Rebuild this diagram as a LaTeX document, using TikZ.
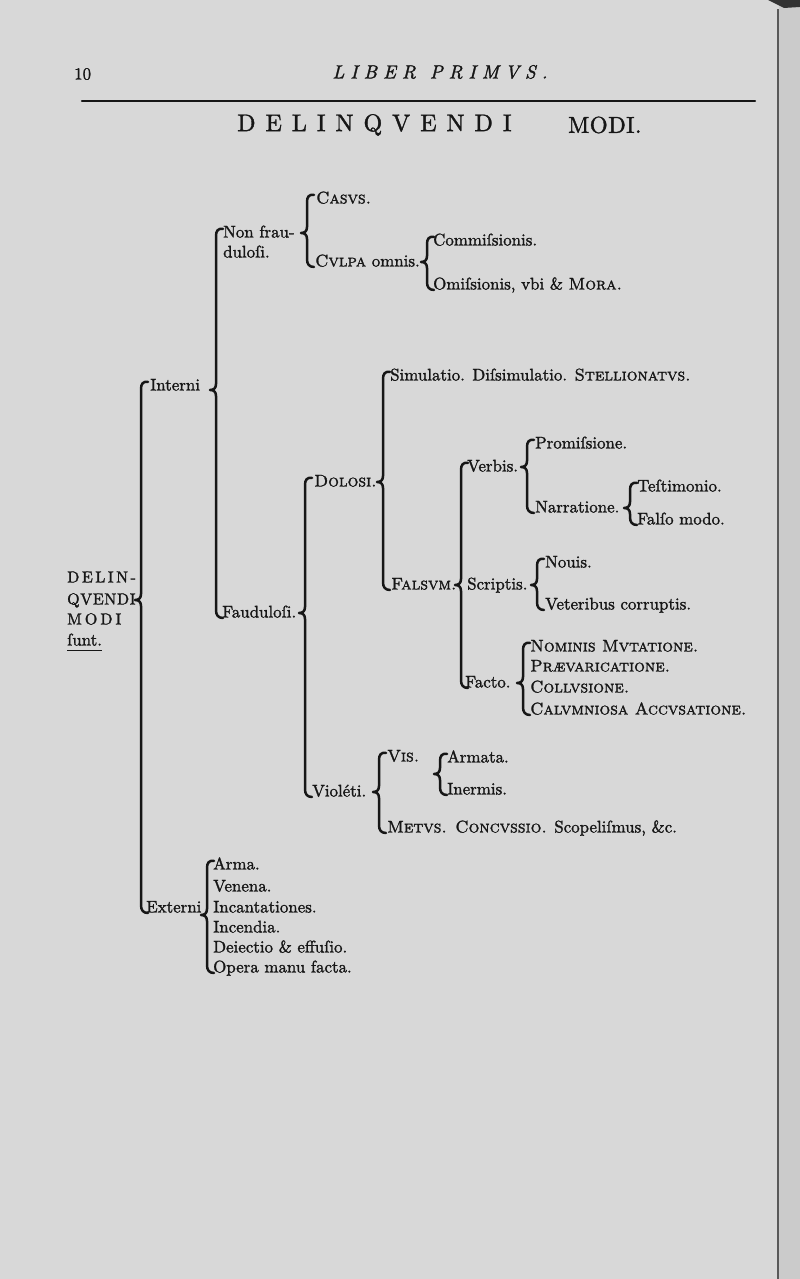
\documentclass[tikz,border=0pt]{standalone}
\usepackage{fontspec}
\setmainfont{lmroman10-regular.otf}[ItalicFont=lmroman10-italic.otf,SmallCapsFont=lmromancaps10-regular.otf,FakeBold=1.5]
\usetikzlibrary{calc}
\definecolor{paper}{HTML}{D8D8D8}
\definecolor{paperedge}{HTML}{CBCBCB}
\definecolor{ink}{HTML}{161616}
\makeatletter
\newdimen\sp@kd
\newcommand\spacedtext[2]{\sp@kd=#1\relax\sp@loop#2\@nil}
\def\sp@loop#1{\ifx#1\@nil\else#1\kern\sp@kd\relax\expandafter\sp@loop\fi}
\makeatother
\newcommand\brc[4]{%
 \draw[bracestyle] let \p1=(#2.east), \p2=(#3.west), \p3=(#4.west) in
 ({#1pt+7pt},{\y2+4pt}) .. controls ({#1pt+2pt},{\y2+5pt}) and ({#1pt},{\y2+2pt}) .. ({#1pt},{\y2-3pt})
 -- ({#1pt},{\y1+6pt}) .. controls ({#1pt},{\y1+2pt}) and ({#1pt-2pt},{\y1}) .. ({#1pt-6pt},{\y1})
 .. controls ({#1pt-2pt},{\y1}) and ({#1pt},{\y1-2pt}) .. ({#1pt},{\y1-6pt})
 -- ({#1pt},{\y3+3pt}) .. controls ({#1pt},{\y3-2pt}) and ({#1pt+2pt},{\y3-5pt}) .. ({#1pt+7pt},{\y3-5pt});
}
\begin{document}
\begin{tikzpicture}[x=1pt,y=1pt,
  lbl/.style={anchor=west,inner sep=0pt,text=ink,font=\fontsize{16.9}{20}\selectfont,text height=12pt,text depth=3pt},
  bracestyle/.style={draw=ink,line width=2.5pt,line cap=round,line join=round}]
\useasboundingbox (0,0) rectangle (800,1279);
% page
\fill[paper] (0,0) rectangle (800,1279);
\fill[paperedge] (779,0) rectangle (800,1279);
\draw[black!65,line width=1.6pt] (778,0) -- (778,1270);
\fill[black!80] (768,1279) -- (800,1279) -- (800,1272) -- (784,1271) -- cycle;
% header
\node[lbl,anchor=west] (pg) at (74,1279-75) {10};
\node[anchor=center,inner sep=0pt,text=ink,font=\fontsize{19}{22}\selectfont\itshape] (hdr) at (443,1279-72)
  {\spacedtext{6pt}{LIBER}\hspace{8pt}\spacedtext{6pt}{PRIMVS.}};
\coordinate (rl) at (82,1279-101);
\coordinate (rr) at (755,1279-101);
\draw[ink,line width=2.2pt,line cap=round] (rl) -- (rr);
\node[anchor=west,inner sep=0pt,text=ink,font=\fontsize{24}{28}\selectfont] (t1) at (237,1279-125) {\spacedtext{10pt}{DELINQVENDI}};
\node[anchor=west,inner sep=0pt,text=ink,font=\fontsize{23}{28}\selectfont] (t2) at (568,1279-125) {\spacedtext{0.5pt}{MODI.}};
% root
\node[lbl,font=\fontsize{16}{18}\selectfont] (dl1) at (67,1279-578) {\spacedtext{2.5pt}{DELIN-}};
\node[lbl,font=\fontsize{16}{18}\selectfont] (dl2) at (67,1279-600) {\spacedtext{0.6pt}{QVENDI}};
\node[lbl,font=\fontsize{16}{18}\selectfont] (dl3) at (67,1279-620) {\spacedtext{3pt}{MODI}};
\node[lbl] (dl4) at (67,1279-641) {ſunt.};
\draw[ink,line width=1.3pt] ([yshift=-2pt]dl4.south west) -- ([yshift=-2pt]dl4.south east);
% level 1
\node[lbl] (int) at (150,1279-386) {Interni};
\coordinate (intc) at ([yshift=-4pt]int.east);
\node[lbl] (ext) at (146,1279-908) {Externi};
\coordinate (extc) at ([yshift=-7pt]ext.east);
% interni
\node[lbl] (nf1) at (223,1279-233) {Non frau-};
\node[lbl] (nf2) at (223,1279-253) {duloſi.};
\node[lbl] (fau) at (222,1279-613) {Fauduloſi.};
\node[lbl] (cas) at (316,1279-199) {\textsc{Casvs.}};
\node[lbl] (cul) at (315,1279-262) {\textsc{Cvlpa} omnis.};
\node[lbl] (com) at (433,1279-241) {Commiſsionis.};
\node[lbl] (omi) at (433,1279-285) {Omiſsionis, vbi \& \textsc{Mora.}};
\node[lbl] (dol) at (314,1279-482) {\textsc{Dolosi.}};
\node[lbl] (vio) at (312,1279-792) {Violéti.};
\node[lbl] (sim) at (390,1279-376) {Simulatio. Diſsimulatio. \textsc{Stellionatvs.}};
\node[lbl] (fal) at (391,1279-585) {\textsc{Falsvm.}};
\node[lbl] (ver) at (467,1279-467) {Verbis.};
\node[lbl] (scr) at (467,1279-585) {Scriptis.};
\node[lbl] (fac) at (465,1279-683) {Facto.};
\node[lbl] (pro) at (535,1279-444) {Promiſsione.};
\node[lbl] (nar) at (535,1279-508) {Narratione.};
\node[lbl] (tes) at (637,1279-487) {Teſtimonio.};
\node[lbl] (fmo) at (637,1279-520) {Falſo modo.};
\node[lbl] (nou) at (545,1279-563) {Nouis.};
\node[lbl] (vet) at (545,1279-605) {Veteribus corruptis.};
\node[lbl] (f1) at (530,1279-647) {\textsc{Nominis Mvtatione.}};
\node[lbl] (f2) at (530,1279-667) {\textsc{Prævaricatione.}};
\node[lbl] (f3) at (530,1279-688) {\textsc{Collvsione.}};
\node[lbl] (f4) at (530,1279-710) {\textsc{Calvmniosa Accvsatione.}};
\node[lbl] (vis) at (387,1279-757) {\textsc{Vis.}};
\node[lbl] (met) at (387,1279-828) {\textsc{Metvs. Concvssio.} Scopeliſmus, \&c.};
\node[lbl] (arm) at (447,1279-758) {Armata.};
\node[lbl] (ine) at (447,1279-790) {Inermis.};
\coordinate (vism) at ($(arm.west)!0.5!(ine.west)$);
% externi
\node[lbl] (e1) at (213,1279-865) {Arma.};
\node[lbl] (e2) at (213,1279-887) {Venena.};
\node[lbl] (e3) at (213,1279-908) {Incantationes.};
\node[lbl] (e4) at (213,1279-928) {Incendia.};
\node[lbl] (e5) at (213,1279-948) {Deiectio \& effuſio.};
\node[lbl] (e6) at (213,1279-968) {Opera manu facta.};
% braces
\brc{141}{dl2}{int}{ext}
\brc{216}{intc}{nf1}{fau}
\brc{307}{nf1}{cas}{cul}
\brc{427}{cul}{com}{omi}
\brc{305}{fau}{dol}{vio}
\brc{383}{dol}{sim}{fal}
\brc{461}{fal}{ver}{fac}
\brc{527}{ver}{pro}{nar}
\brc{630}{nar}{tes}{fmo}
\brc{537}{scr}{nou}{vet}
\brc{523}{fac}{f1}{f4}
\brc{379}{vio}{vis}{met}
\brc{440}{vism}{arm}{ine}
\brc{207}{extc}{e1}{e6}
\end{tikzpicture}
\end{document}
